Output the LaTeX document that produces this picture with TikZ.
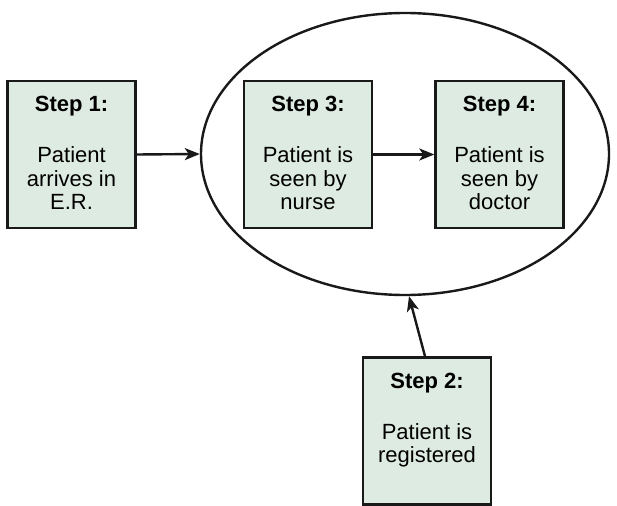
\documentclass[tikz,border=0pt]{standalone}
\usepackage{fontspec}
\setmainfont{Liberation Sans}
\usetikzlibrary{shapes.geometric,arrows.meta}
\definecolor{boxfill}{RGB}{222,235,226}
\definecolor{edge}{RGB}{25,25,25}
\newcommand\stepcontent[2]{\parbox[c][147pt][t]{128pt}{\centering\fontsize{22}{23.5}\selectfont\rule{0pt}{31pt}\textbf{#1}\\[27pt]#2\par}}
\begin{document}
\begin{tikzpicture}[x=1pt,y=-1pt,
  stepbox/.style={draw=edge,fill=boxfill,line width=2.4pt,inner sep=0pt,rectangle},
  arr/.style={draw=edge,line width=2.4pt,-{Stealth[length=15pt,width=12pt,inset=4pt]}}]
\useasboundingbox (0,0) rectangle (617,505);
\node[ellipse,draw=edge,line width=2.4pt,inner sep=0pt,minimum width=408pt,minimum height=282pt] (ell) at (405,154) {};
\node[stepbox] (b1) at (71.5,154.5) {\stepcontent{Step 1:}{Patient\\arrives in\\E.R.}};
\node[stepbox] (b3) at (308,154.5) {\stepcontent{Step 3:}{Patient is\\seen by\\nurse}};
\node[stepbox] (b4) at (499.5,154.5) {\stepcontent{Step 4:}{Patient is\\seen by\\doctor}};
\node[stepbox] (b2) at (427,431) {\stepcontent{Step 2:}{Patient is\\registered}};
\draw[arr] (b1.east) -- (ell.west);
\draw[arr] (b3.east) -- (b4.west);
\draw[arr] ([xshift=-2pt]b2.north) -- ([xshift=4pt]ell.south);
\end{tikzpicture}
\end{document}
